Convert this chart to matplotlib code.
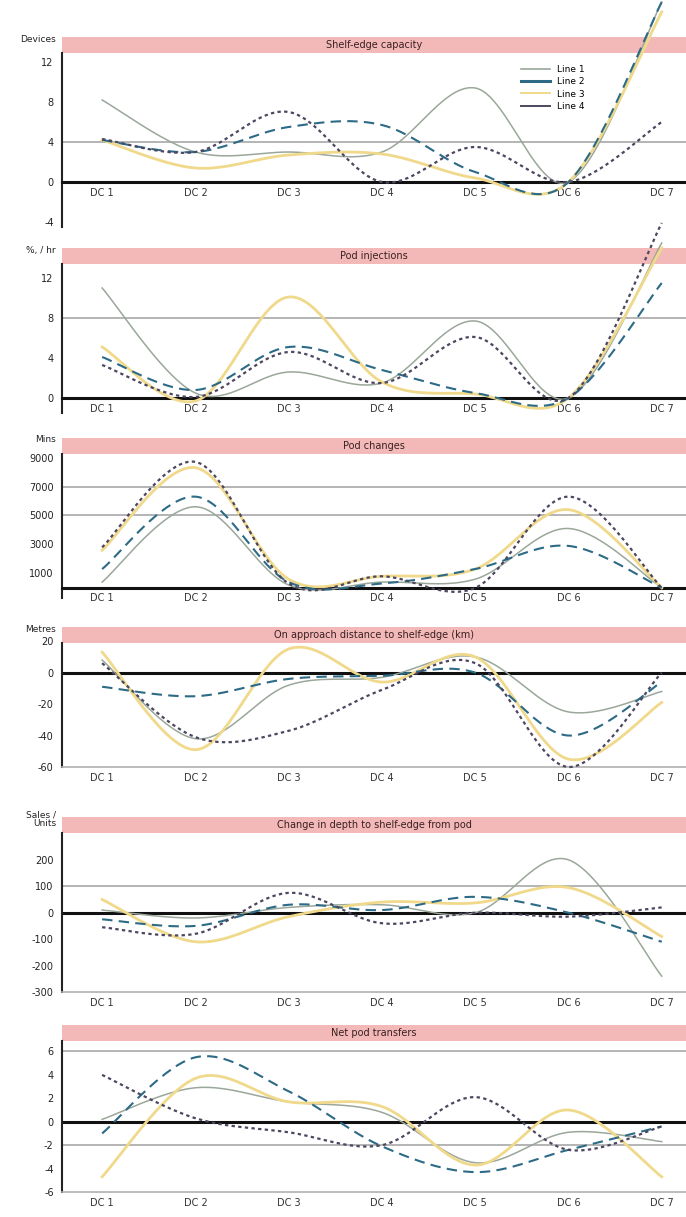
import numpy as np
import matplotlib
matplotlib.use("Agg")
import matplotlib.pyplot as plt
from matplotlib.lines import Line2D

# ---------------- data ----------------
categories = ["DC 1", "DC 2", "DC 3", "DC 4", "DC 5", "DC 6", "DC 7"]
series_names = ["Line 1", "Line 2", "Line 3", "Line 4"]

titles = [
    "Shelf-edge capacity",
    "Pod injections",
    "Pod changes",
    "On approach distance to shelf-edge (km)",
    "Change in depth to shelf-edge from pod",
    "Net pod transfers",
]
ylabels = ["Devices", "%, / hr", "Mins", "Metres", "Sales /\nUnits", ""]

p1_line1 = [8.2, 3.0, 3.0, 3.0, 9.4, 0.0, 18.0]
p1_line2 = [4.2, 3.0, 5.5, 5.7, 1.0, 0.0, 18.0]
p1_line3 = [4.2, 1.4, 2.7, 2.8, 0.4, 0.0, 17.0]
p1_line4 = [4.3, 3.0, 7.0, 0.0, 3.5, 0.0, 6.0]

p2_line1 = [11.0, 0.5, 2.6, 1.5, 7.7, 0.0, 15.5]
p2_line2 = [4.1, 0.8, 5.1, 2.8, 0.5, 0.0, 11.5]
p2_line3 = [5.1, -0.3, 10.1, 1.6, 0.4, 0.0, 15.0]
p2_line4 = [3.3, 0.1, 4.6, 1.5, 6.1, 0.0, 17.5]

p3_line1 = [400, 5600, 200, 400, 600, 4100, 0]
p3_line2 = [1300, 6300, 400, 300, 1300, 2900, 0]
p3_line3 = [2600, 8300, 600, 800, 1300, 5400, 0]
p3_line4 = [2800, 8700, 300, 800, 0, 6300, 0]

p4_line1 = [8, -42, -8, -3, 10, -25, -12]
p4_line2 = [-9, -15, -4, -2, 0, -40, -6]
p4_line3 = [13, -49, 15, -6, 10, -55, -19]
p4_line4 = [6, -41, -37, -11, 6, -60, 0]

p5_line1 = [10, -20, 20, 30, 0, 200, -240]
p5_line2 = [-25, -50, 30, 10, 60, 0, -110]
p5_line3 = [50, -110, -15, 40, 37, 95, -90]
p5_line4 = [-55, -80, 75, -40, 0, -15, 20]

p6_line1 = [0.2, 2.9, 1.7, 0.8, -3.5, -0.9, -1.7]
p6_line2 = [-1.0, 5.5, 2.6, -2.1, -4.3, -2.4, -0.4]
p6_line3 = [-4.7, 3.7, 1.7, 1.3, -3.7, 1.0, -4.7]
p6_line4 = [4.0, 0.3, -0.9, -2.0, 2.1, -2.4, -0.4]

panels = [
    [p1_line1, p1_line2, p1_line3, p1_line4],
    [p2_line1, p2_line2, p2_line3, p2_line4],
    [p3_line1, p3_line2, p3_line3, p3_line4],
    [p4_line1, p4_line2, p4_line3, p4_line4],
    [p5_line1, p5_line2, p5_line3, p5_line4],
    [p6_line1, p6_line2, p6_line3, p6_line4],
]

yticks = [
    [-4, 0, 4, 8, 12],
    [0, 4, 8, 12],
    [1000, 3000, 5000, 7000, 9000],
    [-60, -40, -20, 0, 20],
    [-300, -200, -100, 0, 100, 200],
    [-6, -4, -2, 0, 2, 4, 6],
]
ylims = [(-4.5, 14.5), (-1.5, 15), (-700, 10350), (-60, 29), (-300, 362), (-6, 8.26)]
gridvals = [[4], [8], [5000, 7000], [], [100], [6, -2]]
zero_spine = [True, True, True, False, False, False]

# pixel layout (top, bottom) of each axes
px_boxes = [(37, 227), (248, 413), (438, 598), (627, 767), (817, 992), (1025, 1192)]

colors = ["#9aa79a", "#2c6a86", "#f0d98a", "#4d4660"]
styles = ["-", (0, (5, 3)), "-", (0, (1.5, 1.5))]
widths = [1.1, 1.5, 2.0, 1.6]

W, H = 686, 1217
fig = plt.figure(figsize=(W / 100, H / 100), dpi=100)
plt.rcParams["font.family"] = ["DejaVu Sans"]


def smooth(xs, ys, n=40):
    xs = np.asarray(xs, float)
    ys = np.asarray(ys, float)
    P = np.column_stack([xs, ys])
    P = np.vstack([P[0], P, P[-1]])
    out = []
    t = np.linspace(0, 1, n)
    for i in range(1, len(P) - 2):
        p0, p1, p2, p3 = P[i - 1], P[i], P[i + 1], P[i + 2]
        c1 = p1 + (p2 - p0) / 6.0
        c2 = p2 - (p3 - p1) / 6.0
        seg = ((1 - t) ** 3)[:, None] * p1 + (3 * (1 - t) ** 2 * t)[:, None] * c1 \
            + (3 * (1 - t) * t ** 2)[:, None] * c2 + (t ** 3)[:, None] * p2
        out.append(seg if i == 1 else seg[1:])
    S = np.vstack(out)
    return S[:, 0], S[:, 1]


left_px, right_px = 62, 686
x = np.arange(len(categories))
xlim = (-0.43, 6.26)

for k in range(6):
    top, bot = px_boxes[k]
    ax = fig.add_axes([left_px / W, 1 - bot / H, (right_px - left_px) / W, (bot - top) / H])
    ax.set_xlim(*xlim)
    ax.set_ylim(*ylims[k])
    ax.set_facecolor("none")

    for g in gridvals[k]:
        ax.axhline(g, color="#a8a8a8", lw=1.2, zorder=1)

    for s in range(4):
        sx, sy = smooth(x, panels[k][s])
        ax.plot(sx, sy, color=colors[s], ls=styles[s], lw=widths[s],
                clip_on=False, zorder=3 + (s == 1) + (s == 3))

    # title band
    ax.axhspan(0, 0, alpha=0)
    ax.add_patch(plt.Rectangle((0, 1 - 16 / (bot - top)), 1.0, 16 / (bot - top),
                               transform=ax.transAxes, facecolor="#f3b9b9",
                               edgecolor="none", zorder=2, clip_on=False))
    ax.text(0.5, 1 - 8 / (bot - top), titles[k], transform=ax.transAxes,
            ha="center", va="center", fontsize=7, color="#3a2020", zorder=6)

    for sp in ["top", "right"]:
        ax.spines[sp].set_visible(False)
    ax.spines["left"].set_color("#222222")
    ax.spines["left"].set_linewidth(1.5)
    ax.spines["left"].set_bounds(ylims[k][0], ylims[k][1] - (ylims[k][1] - ylims[k][0]) * 16 / (bot - top))
    if zero_spine[k]:
        ax.spines["bottom"].set_position(("data", 0))
        ax.spines["bottom"].set_color("#111111")
        ax.spines["bottom"].set_linewidth(2.2)
    else:
        ax.spines["bottom"].set_color("#b0b0b0")
        ax.spines["bottom"].set_linewidth(1.2)
        ax.axhline(0, color="#111111", lw=2.2, zorder=2)

    ax.set_xticks(x)
    ax.set_xticklabels(categories, fontsize=7, color="#333333")
    ax.tick_params(axis="x", length=0, pad=4)
    ax.set_yticks(yticks[k])
    ax.set_yticklabels([str(v) for v in yticks[k]], fontsize=7, color="#222222")
    ax.tick_params(axis="y", length=0, pad=6)

    if ylabels[k]:
        fig.text(56 / W, 1 - (top + 2) / H, ylabels[k], ha="right", va="center",
                 fontsize=6.5, color="#222222", linespacing=1.0)

    if k == 0:
        handles = [Line2D([0], [0], color=colors[s], lw=[1.2, 2.2, 1.4, 1.4][s])
                   for s in range(4)]
        leg = ax.legend(handles, series_names, loc="upper left",
                        bbox_to_anchor=(0.73, 0.87), fontsize=6.5, frameon=False,
                        handlelength=3.2, labelspacing=0.35, borderaxespad=0)

fig.savefig("out.png", dpi=100)
